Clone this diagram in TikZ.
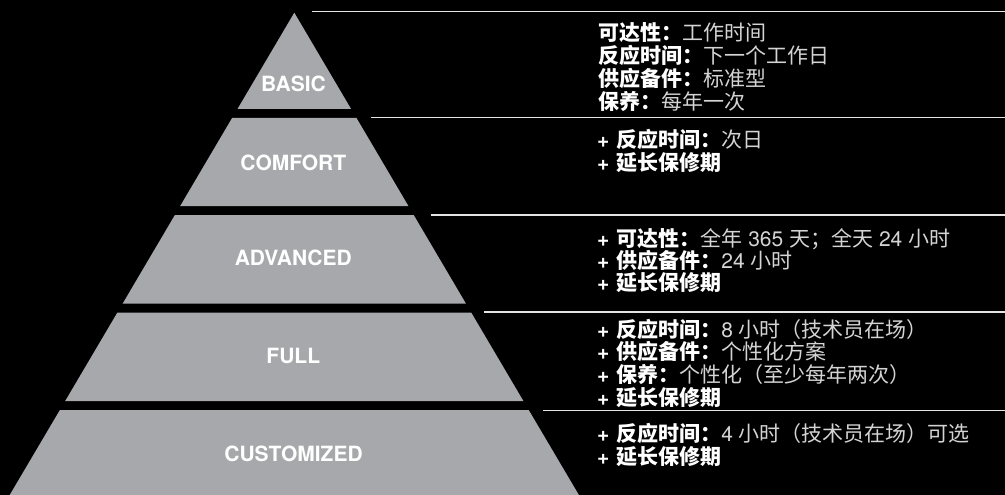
\documentclass[tikz,border=0pt]{standalone}
\usepackage{fontspec}
\setmainfont{TeX Gyre Heros}
\newfontfamily\cjk{Noto Sans CJK SC}
\definecolor{tiergray}{HTML}{A7A8AB}
\definecolor{valgray}{HTML}{D4D4D4}
\definecolor{rulegray}{HTML}{E4E4E4}
\newcommand{\keytxt}[1]{{\cjk\bfseries #1}}
\newcommand{\valtxt}[1]{{\color{valgray}\cjk #1}}
\newcommand{\valnum}[1]{{\color{valgray}#1}}
\newcommand{\plus}{{\bfseries +}\hspace{7pt}}
\tikzset{
  tier/.style={fill=tiergray},
  tiername/.style={text=white, inner sep=0pt, font=\fontsize{21}{24}\selectfont\bfseries},
  info/.style={anchor=base west, inner sep=0pt, text=white, font=\fontsize{21}{24}\selectfont},
  rule/.style={draw=rulegray, line width=1.2pt}
}

\begin{document}
\begin{tikzpicture}[x=1pt,y=-1pt]
			%%%%% START %%%%%
			
			\fill[black] (0, 0) rectangle (1005, 495);
			\useasboundingbox (0, 0) rectangle (1005, 495);
			
			% pyramid tiers
			\fill[tier] (294.3, 12.7) -- (351.1, 109) -- (237.5, 109) -- cycle;
			\fill[tier] (232.1, 118) -- (356.5, 118) -- (408.4, 206) -- (180.2, 206) -- cycle;
			\fill[tier] (174.9, 215) -- (413.7, 215) -- (466.0, 303.7) -- (122.6, 303.7) -- cycle;
			\fill[tier] (117.3, 312.7) -- (471.3, 312.7) -- (523.4, 401) -- (65.2, 401) -- cycle;
			\fill[tier] (59.9, 410) -- (528.7, 410) -- (578.9, 495) -- (9.7, 495) -- cycle;
			
			\node[tiername] (basic) at (293.5, 83.8) {BASIC};
			\node[tiername] (comfort) at (293.3, 163.3) {COMFORT};
			\node[tiername] (advanced) at (293.3, 257.5) {ADVANCED};
			\node[tiername] (full) at (293.3, 355.5) {FULL};
			\node[tiername] (customized) at (293.5, 454) {CUSTOMIZED};
			
			% rules
			\draw[rule] (312, 11.7) -- (1005, 11.7);
			\draw[rule] (371, 117.7) -- (1005, 117.7);
			\draw[rule] (431, 215) -- (1005, 215);
			\draw[rule] (484, 312) -- (1005, 312);
			\draw[rule] (543, 410.7) -- (1005, 410.7);
			
			% basic
			\node[info] (basicA) at (598, 40.9) {\keytxt{可达性：}\valtxt{工作时间}};
			\node[info] (basicB) at (598, 63.7) {\keytxt{反应时间：}\valtxt{下一个工作日}};
			\node[info] (basicC) at (598, 86.5) {\keytxt{供应备件：}\valtxt{标准型}};
			\node[info] (basicD) at (598, 109.3) {\keytxt{保养：}\valtxt{每年一次}};
			
			% comfort
			\node[info] (comfortA) at (597, 147.6) {\plus\keytxt{反应时间：}\valtxt{次日}};
			\node[info] (comfortB) at (597, 170.4) {\plus\keytxt{延长保修期}};
			
			% advanced
			\node[info] (advancedA) at (597, 246.6) {\plus\keytxt{可达性：}\valtxt{全年} \valnum{365} \valtxt{天；全天} \valnum{24} \valtxt{小时}};
			\node[info] (advancedB) at (597, 268.6) {\plus\keytxt{供应备件：}\valnum{24} \valtxt{小时}};
			\node[info] (advancedC) at (597, 290.4) {\plus\keytxt{延长保修期}};
			
			% full
			\node[info] (fullA) at (597, 337.1) {\plus\keytxt{反应时间：}\valnum{8} \valtxt{小时（技术员在场）}};
			\node[info] (fullB) at (597, 359.9) {\plus\keytxt{供应备件：}\valtxt{个性化方案}};
			\node[info] (fullC) at (597, 382.7) {\plus\keytxt{保养：}\valtxt{个性化（至少每年两次）}};
			\node[info] (fullD) at (597, 405.5) {\plus\keytxt{延长保修期}};
			
			% customized
			\node[info] (customizedA) at (597, 441.6) {\plus\keytxt{反应时间：}\valnum{4} \valtxt{小时（技术员在场）可选}};
			\node[info] (customizedB) at (597, 464.2) {\plus\keytxt{延长保修期}};
			
			%%%%% END %%%%%
\end{tikzpicture}
\end{document}
